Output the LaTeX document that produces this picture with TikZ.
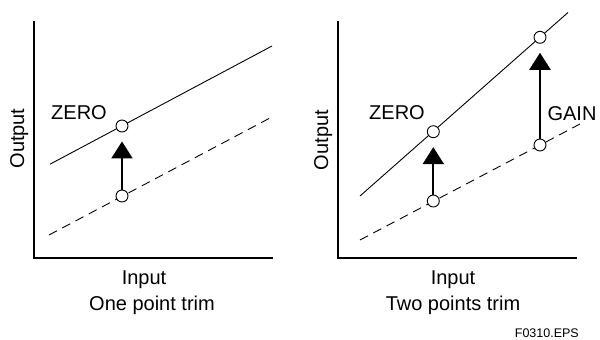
\documentclass[tikz,border=0pt]{standalone}
\usepackage{fontspec}
\setmainfont{Liberation Sans}
\usetikzlibrary{arrows.meta}
\begin{document}
\begin{tikzpicture}[x=1pt,y=-1pt,
  axis/.style={line width=1.3pt},
  curve/.style={line width=0.9pt},
  dcurve/.style={line width=0.9pt, dash pattern=on 9pt off 6pt},
  pt/.style={circle, draw, fill=white, line width=0.9pt, minimum size=12pt, inner sep=0pt},
  arr/.style={line width=2.2pt, -{Triangle[length=17pt,width=21pt]}, shorten >=9pt},
  lab/.style={font=\fontsize{20}{24}\selectfont, inner sep=0pt, anchor=base},
  small/.style={font=\fontsize{12.5}{15}\selectfont, inner sep=0pt, anchor=base east}]
\fill[white] (0,0) rectangle (600,340);
\useasboundingbox (0,0) rectangle (600,340);
% ---------- left panel ----------
\coordinate (Ltop) at (34,21);
\coordinate (Lorg) at (34,258);
\coordinate (Lend) at (273,258);
\draw[axis] (Ltop) -- (Lorg) -- (Lend);
\coordinate (Ls0) at (50,164.2);
\coordinate (Ls1) at (272,46);
\coordinate (Ld0) at (49,235);
\coordinate (Ld1) at (270,118);
\draw[curve] (Ls0) -- (Ls1);
\draw[dcurve] (Ld0) -- (Ld1);
\node[pt] (Lu) at (122,126) {};
\node[pt] (Ll) at (122,196) {};
\draw[arr] (Ll) -- (Lu);
\node[lab] (Lzero) at (79,119.5) {ZERO};
\node[lab, rotate=90] (Lout) at (24,138.5) {Output};
\node[lab] (Lin) at (144,284.5) {Input};
\node[lab] (Ltrim) at (152,310.5) {One point trim};
% ---------- right panel ----------
\coordinate (Rtop) at (338,21);
\coordinate (Rorg) at (338,258);
\coordinate (Rend) at (577,258);
\draw[axis] (Rtop) -- (Rorg) -- (Rend);
\coordinate (Rs0) at (360,196);
\coordinate (Rs1) at (568,12.5);
\coordinate (Rd0) at (360,240);
\coordinate (Rd1) at (580,124);
\draw[curve] (Rs0) -- (Rs1);
\draw[dcurve] (Rd0) -- (Rd1);
\node[pt] (Rzu) at (433.3,131.7) {};
\node[pt] (Rzl) at (433.3,201) {};
\node[pt] (Rgu) at (540,37.3) {};
\node[pt] (Rgl) at (540,145) {};
\draw[arr] (Rzl) -- (Rzu);
\draw[arr] (Rgl) -- (Rgu);
\node[lab] (Rzero) at (397,119.5) {ZERO};
\node[lab] (Rgain) at (572,120) {GAIN};
\node[lab, rotate=90] (Rout) at (328,140) {Output};
\node[lab] (Rin) at (453,284.5) {Input};
\node[lab] (Rtrim) at (453,310.5) {Two points trim};
\node[small] (fig) at (579,337) {F0310.EPS};
\end{tikzpicture}
\end{document}
